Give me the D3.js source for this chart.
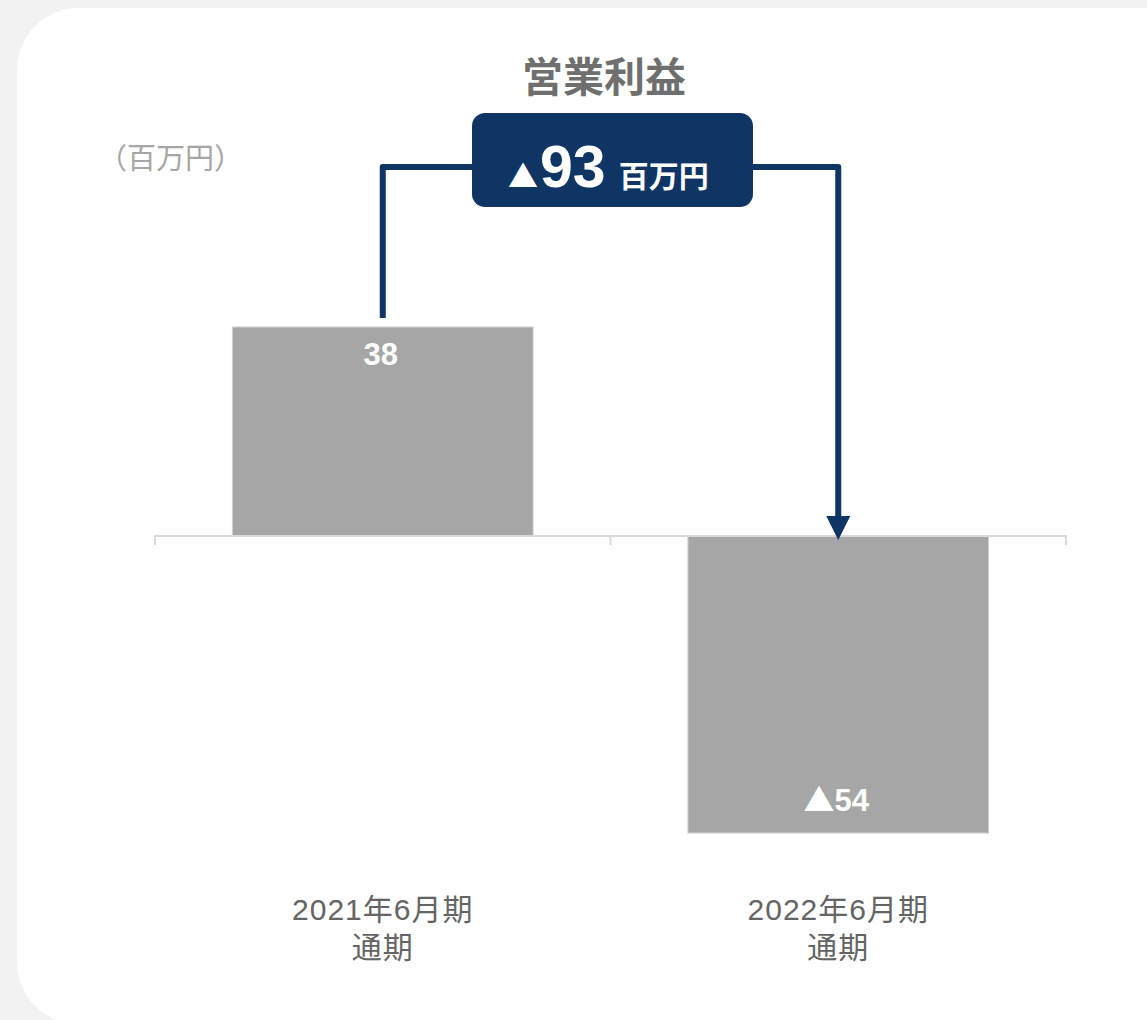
<!DOCTYPE html>
<html lang="ja">
<head>
<meta charset="utf-8">
<script src="https://cdn.jsdelivr.net/npm/d3@7"></script>
<style>
  html, body { margin: 0; padding: 0; background: #f2f2f2; }
  svg { display: block; font-family: "Liberation Sans", Arial, "Noto Sans CJK JP", sans-serif; }
  .cjk, .tri { font-family: "Noto Sans CJK JP", sans-serif; }
</style>
</head>
<body>
<svg id="chart" width="1147" height="1020"></svg>
<script>
// Operating profit, millions of yen (negative = loss, shown with ▲)
const periods = ["2021年6月期", "2022年6月期"];
const periodSub = ["通期", "通期"];
const profit = [38, -54];
const change = -93;
const title = "営業利益";
const unitLabel = "（百万円）";
const unit = "百万円";

const svg = d3.select("#chart");
const navy = "#0f3565";

// card background
svg.append("rect")
  .attr("x", 17).attr("y", 8).attr("width", 1200).attr("height", 1016)
  .attr("rx", 62).attr("ry", 62).attr("fill", "#ffffff");

const x = d3.scaleBand().domain(periods).range([155, 1066]).padding(0);
const y = d3.scaleLinear().domain([-60, 50]).range([866, 261]);
const barW = x.bandwidth() * 0.66;
const cx = p => x(p) + x.bandwidth() / 2;

// title and unit
svg.append("text").attr("x", 604).attr("y", 92).attr("text-anchor", "middle")
  .attr("font-size", 41).attr("font-weight", "bold").attr("fill", "#6f6f6f").text(title);
svg.append("text").attr("class", "cjk").attr("x", 98).attr("y", 169)
  .attr("font-size", 29).attr("fill", "#a6a6a6").text(unitLabel);

// bars
svg.selectAll("rect.bar").data(profit).join("rect").attr("class", "bar")
  .attr("x", (d, i) => cx(periods[i]) - barW / 2)
  .attr("width", barW)
  .attr("y", d => Math.min(y(d), y(0)))
  .attr("height", d => Math.abs(y(d) - y(0)))
  .attr("fill", "#a6a6a6").attr("stroke", "#cfcfcf").attr("stroke-width", 1);

// zero axis with category ticks
const axis = d3.axisBottom(x).tickSize(9).tickFormat("").tickSizeOuter(9);
const axisG = svg.append("g").attr("transform", `translate(0,${y(0)})`).call(axis);
axisG.select(".domain").attr("stroke", "#d9d9d9").attr("stroke-width", 2)
  .attr("d", `M155,9V0H1066V9`);
axisG.selectAll(".tick line").remove();
axisG.append("line").attr("x1", 610.5).attr("x2", 610.5).attr("y1", 0).attr("y2", 9)
  .attr("stroke", "#d9d9d9").attr("stroke-width", 2);

// value labels
const vals = svg.selectAll("text.val").data(profit).join("text").attr("class", "val")
  .attr("x", (d, i) => cx(periods[i]) - 2)
  .attr("y", d => d >= 0 ? y(d) + 38 : y(d) - 22)
  .attr("text-anchor", "middle").attr("font-size", 31).attr("font-weight", "bold")
  .attr("fill", "#ffffff");
vals.append("tspan").attr("class", "tri").text(d => d < 0 ? "▲" : "");
vals.append("tspan").text(d => Math.abs(d));

// category labels
periods.forEach((p, i) => {
  const t = svg.append("text").attr("x", cx(p)).attr("text-anchor", "middle")
    .attr("font-size", 30).attr("letter-spacing", 1).attr("fill", "#646464");
  t.append("tspan").attr("x", cx(p)).attr("y", 920).text(p);
  t.append("tspan").attr("x", cx(p)).attr("y", 958).text(periodSub[i]);
});

// connector from first bar to second
const c0 = cx(periods[0]), c1 = cx(periods[1]);
const lineY = 167;
svg.append("path")
  .attr("d", `M${c0},${y(profit[0]) - 9}V${lineY}H480`)
  .attr("fill", "none").attr("stroke", navy).attr("stroke-width", 6).attr("stroke-linejoin", "round");
svg.append("path")
  .attr("d", `M745,${lineY}H${c1}V${y(0) - 20}`)
  .attr("fill", "none").attr("stroke", navy).attr("stroke-width", 6).attr("stroke-linejoin", "round");
svg.append("path")
  .attr("d", `M${c1 - 12},${y(0) - 20}L${c1 + 12},${y(0) - 20}L${c1},${y(0) + 4}Z`)
  .attr("fill", navy);

// change callout
svg.append("rect").attr("x", 472).attr("y", 113).attr("width", 281).attr("height", 94)
  .attr("rx", 13).attr("fill", navy);
const ct = svg.append("text").attr("x", 508).attr("y", 187).attr("fill", "#ffffff").attr("font-weight", "bold");
ct.append("tspan").attr("class", "tri").attr("font-size", 30).text(change < 0 ? "▲" : "");
ct.append("tspan").attr("font-size", 59).attr("dx", 2).text(Math.abs(change));
ct.append("tspan").attr("class", "cjk").attr("font-size", 30).attr("dx", 13).text(unit);
</script>
</body>
</html>
